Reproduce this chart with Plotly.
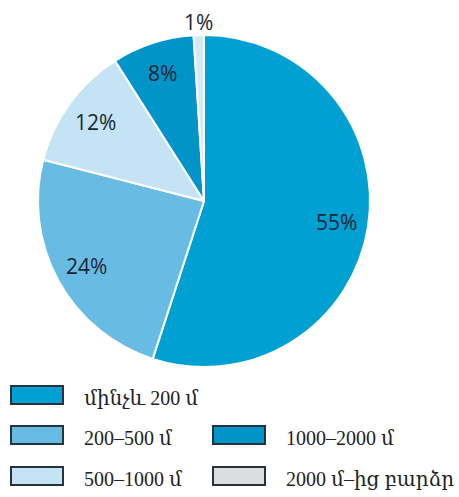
import math
import plotly.graph_objects as go

# ---- data ----
labels = ["մինչև 200 մ", "200–500 մ", "500–1000 մ", "1000–2000 մ", "2000 մ–ից բարձր"]
values = [55, 24, 12, 8, 1]
slice_colors = ["#00a0d3", "#68bce3", "#c4e4f5", "#0094c9", "#d2e9f6"]
legend_colors = ["#00a0d3", "#68bce3", "#c4e4f5", "#0094c9", "#dcdddf"]

W, H = 459, 497
CX, CY, R = 204, 201, 166


def px(x):
    return x / W


def py(y):
    return 1 - y / H


fig = go.Figure()
fig.add_trace(go.Pie(
    labels=labels,
    values=values,
    sort=False,
    direction="clockwise",
    rotation=0,
    textinfo="none",
    hoverinfo="label+percent",
    marker=dict(colors=slice_colors, line=dict(color="white", width=2)),
    showlegend=False,
    domain=dict(x=[px(CX - R), px(CX + R)], y=[py(CY + R), py(CY - R)]),
))

annotations = []
total = sum(values)
cum = 0
for v in values:
    mid = (cum + v / 2) / total * 2 * math.pi
    cum += v
    frac = v / total
    rr = 0.81 * R if frac > 0.03 else 1.08 * R
    x = CX + rr * math.sin(mid)
    y = CY - rr * math.cos(mid)
    annotations.append(dict(
        x=px(x), y=py(y), xref="paper", yref="paper",
        text=f"{round(frac * 100)}%", showarrow=False,
        xanchor="center", yanchor="middle",
        font=dict(family="Open Sans, sans-serif", size=21, color="#1c2633"),
    ))

# custom legend (two columns, as in the reference)
slots = [(0, 0), (0, 1), (0, 2), (1, 1), (1, 2)]
col_x = [11, 213]
row_y = [395, 435, 476]
shapes = []
for (c, r), lab, col in zip(slots, labels, legend_colors):
    x0 = col_x[c]
    yc = row_y[r]
    shapes.append(dict(
        type="rect", xref="paper", yref="paper",
        x0=px(x0), x1=px(x0 + 52), y0=py(yc + 9), y1=py(yc - 9),
        fillcolor=col, line=dict(color="#27323c", width=2),
    ))
    annotations.append(dict(
        x=px(x0 + 71), y=py(yc + 3), xref="paper", yref="paper",
        text=lab, showarrow=False, xanchor="left", yanchor="middle",
        font=dict(family="Liberation Serif, DejaVu Serif, serif", size=20, color="#222222"),
    ))

fig.update_layout(
    width=W, height=H,
    margin=dict(l=0, r=0, t=0, b=0),
    paper_bgcolor="white",
    plot_bgcolor="white",
    annotations=annotations,
    shapes=shapes,
)

fig.write_html("out.html", config={"displayModeBar": False},
               post_script="document.body.style.margin='0';")
